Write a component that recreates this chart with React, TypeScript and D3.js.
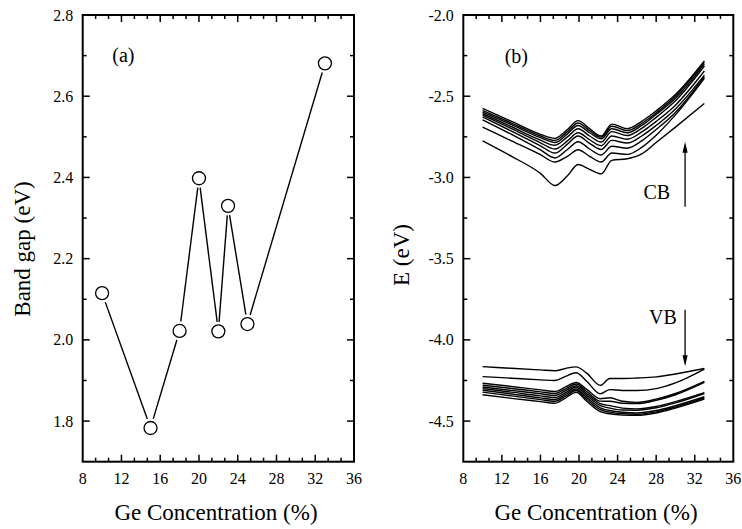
import React from "react";
import * as d3 from "d3";

// ---------- Data ----------
// Panel (a): band gap vs Ge concentration
const gapX = [10, 15, 18, 20, 22, 23, 25, 33];
const gapY = [2.115, 1.783, 2.022, 2.398, 2.021, 2.33, 2.039, 2.681];

// Panel (b): conduction band (CB) curves, top to bottom
const cbX = [10, 13, 16, 17.5, 18.8, 19.9, 21.1, 22.3, 23.4, 25, 26.5, 28, 30, 33];
const cb0 = [-2.575, -2.655, -2.735, -2.76, -2.705, -2.65, -2.7, -2.745, -2.672, -2.7, -2.655, -2.59, -2.49, -2.283];
const cb1 = [-2.588, -2.665, -2.745, -2.772, -2.718, -2.665, -2.712, -2.752, -2.685, -2.712, -2.668, -2.602, -2.5, -2.292];
const cb2 = [-2.598, -2.675, -2.755, -2.785, -2.732, -2.68, -2.725, -2.762, -2.7, -2.725, -2.68, -2.612, -2.512, -2.302];
const cb3 = [-2.607, -2.688, -2.77, -2.802, -2.75, -2.7, -2.745, -2.782, -2.718, -2.742, -2.698, -2.63, -2.528, -2.314];
const cb4 = [-2.617, -2.7, -2.787, -2.825, -2.775, -2.725, -2.768, -2.805, -2.745, -2.765, -2.72, -2.655, -2.555, -2.345];
const cb5 = [-2.628, -2.715, -2.805, -2.85, -2.795, -2.745, -2.79, -2.828, -2.772, -2.788, -2.745, -2.68, -2.578, -2.37];
const cb6 = [-2.645, -2.735, -2.83, -2.88, -2.828, -2.78, -2.825, -2.862, -2.808, -2.82, -2.775, -2.705, -2.6, -2.38];
const cb7 = [-2.69, -2.775, -2.86, -2.905, -2.87, -2.83, -2.87, -2.905, -2.85, -2.858, -2.815, -2.74, -2.615, -2.39];
const cb8 = [-2.775, -2.87, -2.975, -3.05, -2.99, -2.92, -2.95, -2.978, -2.895, -2.885, -2.855, -2.785, -2.69, -2.545];
const cbSeries = [cb0, cb1, cb2, cb3, cb4, cb5, cb6, cb7, cb8];

// Panel (b): valence band (VB) curves, top to bottom
const vbX = [10, 13, 16, 17.5, 18.6, 19.7, 20.8, 22.2, 23.2, 24.5, 26, 28, 30, 33];
const vb0 = [-4.165, -4.175, -4.185, -4.19, -4.176, -4.166, -4.205, -4.28, -4.238, -4.238, -4.235, -4.228, -4.21, -4.176];
const vb1 = [-4.226, -4.236, -4.246, -4.25, -4.225, -4.202, -4.255, -4.332, -4.306, -4.312, -4.312, -4.3, -4.265, -4.18];
const vb2 = [-4.267, -4.287, -4.308, -4.318, -4.29, -4.262, -4.305, -4.362, -4.356, -4.378, -4.385, -4.365, -4.33, -4.255];
const vb3 = [-4.279, -4.299, -4.32, -4.33, -4.302, -4.272, -4.318, -4.377, -4.378, -4.39, -4.392, -4.372, -4.338, -4.262];
const vb4 = [-4.29, -4.311, -4.332, -4.342, -4.313, -4.282, -4.33, -4.392, -4.405, -4.42, -4.425, -4.41, -4.38, -4.325];
const vb5 = [-4.3, -4.322, -4.345, -4.355, -4.325, -4.292, -4.342, -4.405, -4.42, -4.432, -4.433, -4.418, -4.388, -4.33];
const vb6 = [-4.31, -4.333, -4.357, -4.367, -4.336, -4.302, -4.354, -4.418, -4.435, -4.446, -4.45, -4.435, -4.405, -4.35];
const vb7 = [-4.322, -4.345, -4.368, -4.378, -4.347, -4.312, -4.366, -4.43, -4.445, -4.455, -4.458, -4.443, -4.413, -4.358];
const vb8 = [-4.338, -4.36, -4.38, -4.39, -4.358, -4.322, -4.378, -4.442, -4.455, -4.463, -4.465, -4.45, -4.42, -4.365];
const vbSeries = [vb0, vb1, vb2, vb3, vb4, vb5, vb6, vb7, vb8];

// Tick labels
const xTickLabels = ["8", "12", "16", "20", "24", "28", "32", "36"];
const aYTickLabels = ["1.8", "2.0", "2.2", "2.4", "2.6", "2.8"];
const bYTickLabels = ["-4.5", "-4.0", "-3.5", "-3.0", "-2.5", "-2.0"];

const FONT = "Liberation Serif, Times New Roman, serif";
const txt = { fontFamily: FONT } as React.CSSProperties;

type AxisProps = {
  x: d3.ScaleLinear<number, number>;
  y: d3.ScaleLinear<number, number>;
  yMajor: number[];
  yMinor: number[];
  yLabels: string[];
};

function Frame({ x, y, yMajor, yMinor, yLabels }: AxisProps) {
  const [x0, x1] = x.range();
  const [y0, y1] = y.range(); // y0 bottom, y1 top
  const xMajor = xTickLabels.map((t) => +t);
  const xMinor = d3.range(8, 36.001, 4 / 3).filter((v) => Math.abs(((v - 8) / 4) - Math.round((v - 8) / 4)) > 0.01);
  const maj = 7;
  const min = 4;
  return (
    <g>
      {xMajor.slice(1, -1).map((v) => (
        <g key={"xm" + v}>
          <line x1={x(v)} x2={x(v)} y1={y0} y2={y0 - maj} stroke="#000" strokeWidth={1.5} />
          <line x1={x(v)} x2={x(v)} y1={y1} y2={y1 + maj} stroke="#000" strokeWidth={1.5} />
        </g>
      ))}
      {xMinor.map((v, i) => (
        <g key={"xn" + i}>
          <line x1={x(v)} x2={x(v)} y1={y0} y2={y0 - min} stroke="#000" strokeWidth={1.5} />
          <line x1={x(v)} x2={x(v)} y1={y1} y2={y1 + min} stroke="#000" strokeWidth={1.5} />
        </g>
      ))}
      {yMajor.map((v) => (
        <g key={"ym" + v}>
          <line x1={x0} x2={x0 + maj} y1={y(v)} y2={y(v)} stroke="#000" strokeWidth={1.5} />
          <line x1={x1} x2={x1 - maj} y1={y(v)} y2={y(v)} stroke="#000" strokeWidth={1.5} />
        </g>
      ))}
      {yMinor.map((v) => (
        <g key={"yn" + v}>
          <line x1={x0} x2={x0 + min} y1={y(v)} y2={y(v)} stroke="#000" strokeWidth={1.5} />
          <line x1={x1} x2={x1 - min} y1={y(v)} y2={y(v)} stroke="#000" strokeWidth={1.5} />
        </g>
      ))}
      <rect x={x0} y={y1} width={x1 - x0} height={y0 - y1} fill="none" stroke="#000" strokeWidth={2} />
      {xTickLabels.map((t) => (
        <text key={"xl" + t} x={x(+t)} y={y0 + 22.5} fontSize={16} textAnchor="middle" style={txt}>
          {t}
        </text>
      ))}
      {yLabels.map((t) => (
        <text key={"yl" + t} x={x0 - 9.5} y={y(+t) + 5.5} fontSize={16} textAnchor="end" style={txt}>
          {t}
        </text>
      ))}
    </g>
  );
}

function Arrow({ x, yFrom, yTo }: { x: number; yFrom: number; yTo: number }) {
  const dir = yTo < yFrom ? -1 : 1;
  const hl = 11;
  const hw = 2.6;
  return (
    <g>
      <line x1={x} x2={x} y1={yFrom} y2={yTo - dir * hl * 0.7} stroke="#000" strokeWidth={1.3} />
      <path d={`M${x},${yTo} L${x - hw},${yTo - dir * hl} L${x + hw},${yTo - dir * hl} Z`} fill="#000" />
    </g>
  );
}

export default function App() {
  const top = 15;
  const bottom = 461.7;

  const xa = d3.scaleLinear().domain([8, 36]).range([82.7, 354]);
  const ya = d3.scaleLinear().domain([1.7, 2.8]).range([bottom, top]);
  const xb = d3.scaleLinear().domain([8, 36]).range([463.3, 733.3]);
  const yb = d3.scaleLinear().domain([-4.75, -2.0]).range([bottom, top]);

  // Panel (a) segments with gaps around markers
  const r = 6.5;
  const gap = r + 3;
  const pts = gapX.map((v, i) => [xa(v), ya(gapY[i])] as [number, number]);
  const segs = d3.pairs(pts).map(([p, q]) => {
    const dx = q[0] - p[0];
    const dy = q[1] - p[1];
    const L = Math.hypot(dx, dy);
    const ux = dx / L;
    const uy = dy / L;
    return [p[0] + ux * gap, p[1] + uy * gap, q[0] - ux * gap, q[1] - uy * gap];
  });

  const lineCB = d3
    .line<number>()
    .x((_, i) => xb(cbX[i]))
    .y((d) => yb(d))
    .curve(d3.curveMonotoneX);
  const lineVB = d3
    .line<number>()
    .x((_, i) => xb(vbX[i]))
    .y((d) => yb(d))
    .curve(d3.curveMonotoneX);

  return (
    <svg width={742} height={529} style={{ position: "absolute", left: 0, top: 0, background: "#fff" }}>
      <rect x={0} y={0} width={742} height={529} fill="#fff" />
      {/* Panel (a) */}
      <Frame
        x={xa}
        y={ya}
        yMajor={d3.range(1.8, 2.81, 0.2).map((v) => +v.toFixed(1)).slice(0, -1)}
        yMinor={d3.range(1.9, 2.75, 0.2).map((v) => +v.toFixed(1))}
        yLabels={aYTickLabels}
      />
      {segs.map((s, i) => (
        <line key={"s" + i} x1={s[0]} y1={s[1]} x2={s[2]} y2={s[3]} stroke="#000" strokeWidth={1.4} />
      ))}
      {pts.map((p, i) => (
        <circle key={"c" + i} cx={p[0]} cy={p[1]} r={r} fill="#fff" stroke="#000" strokeWidth={1.3} />
      ))}
      <text x={xa(12.2)} y={ya(2.7) + 6} fontSize={20} textAnchor="middle" style={txt}>
        (a)
      </text>
      <text transform={`translate(30,249) rotate(-90)`} fontSize={23} textAnchor="middle" style={txt}>
        Band gap (eV)
      </text>
      <text x={216} y={520} fontSize={23} textAnchor="middle" style={txt}>
        Ge Concentration (%)
      </text>

      {/* Panel (b) */}
      <Frame
        x={xb}
        y={yb}
        yMajor={d3.range(-4.5, -2.01, 0.5).map((v) => +v.toFixed(2))}
        yMinor={d3.range(-4.25, -2.1, 0.5).map((v) => +v.toFixed(2))}
        yLabels={bYTickLabels}
      />
      {cbSeries.map((s, i) => (
        <path key={"cb" + i} d={lineCB(s) || ""} fill="none" stroke="#000" strokeWidth={1.4} />
      ))}
      {vbSeries.map((s, i) => (
        <path key={"vb" + i} d={lineVB(s) || ""} fill="none" stroke="#000" strokeWidth={1.4} />
      ))}
      <text x={xb(13.5)} y={yb(-2.257) + 6} fontSize={20} textAnchor="middle" style={txt}>
        (b)
      </text>
      <Arrow x={xb(31)} yFrom={yb(-3.18)} yTo={yb(-2.78)} />
      <text x={xb(28.06)} y={yb(-3.09) + 7} fontSize={20} textAnchor="middle" style={txt}>
        CB
      </text>
      <Arrow x={xb(31)} yFrom={yb(-3.815)} yTo={yb(-4.163)} />
      <text x={xb(28.7)} y={yb(-3.86) + 7} fontSize={20} textAnchor="middle" style={txt}>
        VB
      </text>
      <text transform={`translate(409,255) rotate(-90)`} fontSize={23} textAnchor="middle" style={txt}>
        E (eV)
      </text>
      <text x={596} y={520} fontSize={23} textAnchor="middle" style={txt}>
        Ge Concentration (%)
      </text>
    </svg>
  );
}
